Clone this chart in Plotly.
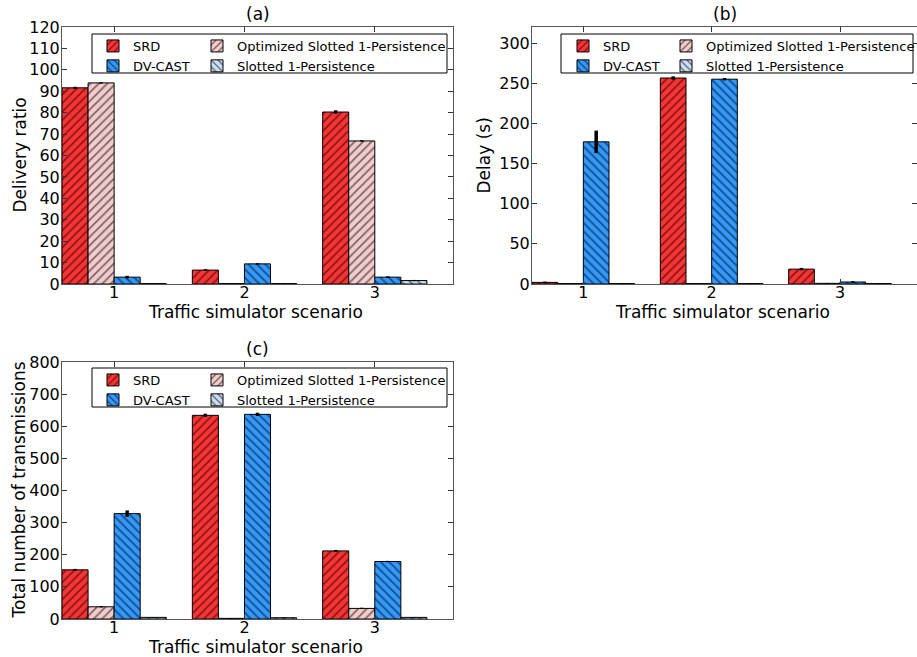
import plotly.graph_objects as go

W, H = 917, 657

categories = [1, 2, 3]
series_names = ["SRD", "Optimized Slotted 1-Persistence", "DV-CAST", "Slotted 1-Persistence"]

# (a) Delivery ratio
delivery_srd = [91.6, 6.5, 80.3]
delivery_opt = [93.9, 0.2, 66.8]
delivery_dv = [3.2, 9.4, 3.2]
delivery_slot = [0.2, 0.2, 1.6]
delivery_srd_err = [0.5, 0.4, 0.8]
delivery_opt_err = [0.3, 0.2, 0.3]
delivery_dv_err = [0.6, 0.3, 0.4]
delivery_slot_err = [0.2, 0.2, 0.3]

# (b) Delay (s)
delay_srd = [2.0, 256.5, 18.5]
delay_opt = [0.5, 0.5, 0.8]
delay_dv = [177.0, 255.0, 2.5]
delay_slot = [0.5, 0.5, 0.5]
delay_srd_err = [1.0, 2.0, 1.5]
delay_opt_err = [0.5, 0.5, 0.5]
delay_dv_err = [14.0, 1.5, 1.0]
delay_slot_err = [0.5, 0.5, 0.5]

# (c) Total number of transmissions
trans_srd = [153, 634, 212]
trans_opt = [38, 2, 33]
trans_dv = [328, 637, 179]
trans_slot = [5, 4, 5]
trans_srd_err = [3, 5, 3]
trans_opt_err = [2, 1, 2]
trans_dv_err = [10, 5, 2]
trans_slot_err = [1, 1, 1]

xtitle = "Traffic simulator scenario"

colors = ["#ff3333", "#f5cccc", "#3399ff", "#cce0f5"]
shapes_hatch = ["/", "/", "\\", "\\"]
offsets = [-0.4, -0.2, 0.0, 0.2]

FONT = "DejaVu Sans"

def px_x(p):
    return p / W

def px_y(p):
    return 1 - p / H

panels = [
    dict(name="a", xd=(62, 453), yd=(27, 284), yr=[0, 120], dt=10, ytitle="Delivery ratio",
         data=[delivery_srd, delivery_opt, delivery_dv, delivery_slot],
         err=[delivery_srd_err, delivery_opt_err, delivery_dv_err, delivery_slot_err],
         leg=(93, 197, 31), box=(92, 34, 447, 73), ytx=20),
    dict(name="b", xd=(532, 917), yd=(27, 284), yr=[0, 320], dt=50, ytitle="Delay (s)",
         data=[delay_srd, delay_opt, delay_dv, delay_slot],
         err=[delay_srd_err, delay_opt_err, delay_dv_err, delay_slot_err],
         leg=(563, 666, 31), box=(561, 34, 913, 73), ytx=484),
    dict(name="c", xd=(62, 453), yd=(362, 619), yr=[0, 800], dt=100, ytitle="Total number of transmissions",
         data=[trans_srd, trans_opt, trans_dv, trans_slot],
         err=[trans_srd_err, trans_opt_err, trans_dv_err, trans_slot_err],
         leg=(93, 197, 365), box=(92, 368, 447, 407), ytx=18),
]

fig = go.Figure()
layout = dict(
    width=W, height=H, margin=dict(l=0, r=0, t=0, b=0, autoexpand=False),
    paper_bgcolor="white", plot_bgcolor="white",
    barmode="overlay", font=dict(family=FONT, color="black", size=16),
    shapes=[], annotations=[], showlegend=True,
)

for i, p in enumerate(panels):
    ax = "" if i == 0 else str(i + 1)
    xa, ya = "x" + ax, "y" + ax
    l1 = "legend" if i == 0 else "legend" + str(2 * i + 1)
    l2 = "legend" + str(2 * i + 2)
    for k in range(4):
        fig.add_trace(go.Bar(
            x=categories, y=p["data"][k], width=0.2, offset=offsets[k],
            name=series_names[k], xaxis=xa, yaxis=ya,
            legend=l1 if k in (0, 2) else l2,
            marker=dict(color=colors[k], line=dict(color="black", width=1),
                        pattern=dict(shape=shapes_hatch[k], fgcolor="black", size=6, solidity=0.3)),
            error_y=dict(type="data", array=p["err"][k], color="black", thickness=3.5, width=0),
        ))
    axcommon = dict(showline=True, linecolor="#555", linewidth=1, mirror="allticks",
                    ticks="inside", ticklen=5, tickcolor="#333", showgrid=False, zeroline=False,
                    automargin=False, tickfont=dict(size=16, family=FONT))
    layout["xaxis" + ax] = dict(axcommon, domain=[px_x(p["xd"][0]), px_x(p["xd"][1])],
                                range=[0.6, 3.6], tickvals=categories, anchor=ya, ticklabelstandoff=-6)
    layout["yaxis" + ax] = dict(axcommon, domain=[px_y(p["yd"][1]), px_y(p["yd"][0])],
                                range=p["yr"], dtick=p["dt"], anchor=xa, ticklabelstandoff=-2)
    bx = p["box"]
    layout["shapes"].append(dict(type="rect", xref="paper", yref="paper",
                                 x0=px_x(bx[0]), x1=px_x(bx[2]), y0=px_y(bx[3]), y1=px_y(bx[1]),
                                 line=dict(color="black", width=1), fillcolor="white", layer="above"))
    for lname, lx in ((l1, p["leg"][0]), (l2, p["leg"][1])):
        layout[lname] = dict(x=px_x(lx), y=px_y(p["leg"][2]), xanchor="left", yanchor="top",
                             bgcolor="rgba(0,0,0,0)", borderwidth=0, tracegroupgap=0,
                             font=dict(size=13, family=FONT), itemclick=False)
    cx = (p["xd"][0] + p["xd"][1]) / 2
    layout["annotations"].append(dict(text="(" + p["name"] + ")", xref="paper", yref="paper",
                                      x=px_x(cx), y=px_y(p["yd"][0] - 13), xanchor="center", yanchor="middle",
                                      showarrow=False, font=dict(size=17, family=FONT)))
    layout["annotations"].append(dict(text=xtitle, xref="paper", yref="paper",
                                      x=px_x(cx - 2), y=px_y(p["yd"][1] + 28), xanchor="center", yanchor="middle",
                                      showarrow=False, font=dict(size=17, family=FONT)))
    cy = (p["yd"][0] + p["yd"][1]) / 2
    layout["annotations"].append(dict(text=p["ytitle"], xref="paper", yref="paper", textangle=-90,
                                      x=px_x(p["ytx"]), y=px_y(cy), xanchor="center", yanchor="middle",
                                      showarrow=False, font=dict(size=17, family=FONT)))

fig.update_layout(**layout)
fig.write_html("out.html", config={"displayModeBar": False},
               post_script="document.body.style.margin='0';")
